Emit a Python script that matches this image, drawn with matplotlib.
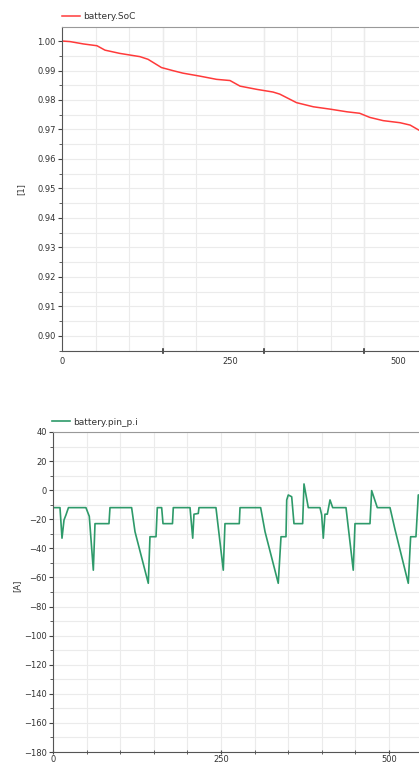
import matplotlib
matplotlib.use('Agg')
import matplotlib.pyplot as plt
from matplotlib.ticker import MultipleLocator, FixedLocator

# SoC trace
soc_t = [0, 12, 32, 52, 64, 86, 116, 128, 138, 148, 166, 180, 205, 230, 250,
         265, 290, 314, 324, 349, 374, 399, 424, 443, 458, 478, 503, 518, 531, 548]
soc_v = [1.000, 0.9998, 0.9990, 0.9984, 0.9969, 0.9958, 0.9947, 0.9938, 0.9924,
         0.9910, 0.9899, 0.9891, 0.9881, 0.9870, 0.9866, 0.9847, 0.9836, 0.9827,
         0.9820, 0.9791, 0.9777, 0.9769, 0.9760, 0.9755, 0.9741, 0.9730, 0.9723,
         0.9715, 0.9698, 0.9680]

# battery current trace
cur_t = [0, 10.4, 13.4, 16.4, 19.3, 23, 49, 54, 60, 62.5, 83.3, 84.8, 117, 122,
         141.8, 144.3, 153.3, 155.2, 161.7, 163.7, 177.8, 179, 203.9, 207.9, 209.8,
         216.2, 217.2, 242.5, 253.4, 255.9, 277.2, 278.3, 309, 315.5, 335.2, 339.3,
         346.7, 347.8, 350.1, 355.2, 358.6, 371.5, 373.5, 379.9, 397.3, 399.8, 402.2,
         404.7, 408.2, 412.2, 416.2, 436, 446.8, 449.4, 471.7, 474.2, 482.6, 501.5,
         508.9, 528.7, 532.2, 540.1, 543.6, 560]
cur_v = [-12, -12, -33, -20.5, -17, -12, -12, -18, -55, -23, -23, -12, -12, -28.5,
         -64, -32, -32, -12, -12, -23, -23, -12, -12, -33, -16.5,
         -16, -12, -12, -55, -23, -23, -12, -12, -28.5, -64, -32,
         -32, -6.7, -3.3, -4.5, -23, -23, 4.3, -12, -12, -17, -33,
         -16.5, -16.5, -6.7, -12, -12, -55, -23, -23, -0.3, -12, -12,
         -27, -64, -32, -32, -3.3, -3.3]

W, H = 419, 765
fig = plt.figure(figsize=(W / 100, H / 100), dpi=100)
fs = 6
txt = '#333333'


def style(ax):
    for s in ['left', 'bottom']:
        ax.spines[s].set_color('#555555')
    for s in ['top', 'right']:
        ax.spines[s].set_color('#999999')
    ax.tick_params(axis='both', which='both', labelsize=fs, colors='#444444',
                   labelcolor=txt)
    ax.tick_params(axis='y', which='major', direction='out', length=3, pad=1.5)
    ax.tick_params(axis='y', which='minor', direction='out', length=2)
    ax.grid(True, which='both', color='#ebebeb', lw=0.8)
    ax.set_axisbelow(True)


# top panel
right_px = 480
ax1 = fig.add_axes([62 / W, 1 - 351 / H, (right_px - 62) / W, 324 / H])
ax1.plot(soc_t, soc_v, color='#ff3a3a', lw=1.1, label='battery.SoC')
ax1.set_xlim(0, (right_px - 62) * 250 / 168)
ax1.set_ylim(0.8949, 1.00475)
ax1.yaxis.set_major_locator(MultipleLocator(0.01))
ax1.yaxis.set_minor_locator(MultipleLocator(0.005))
ax1.yaxis.set_major_formatter(matplotlib.ticker.FormatStrFormatter('%.2f'))
ax1.xaxis.set_major_locator(FixedLocator([0, 250, 500]))
ax1.xaxis.set_minor_locator(MultipleLocator(50))
style(ax1)
ax1.tick_params(axis='x', which='major', length=0, pad=4)
ax1.tick_params(axis='x', which='minor', length=0)
ax1.grid(False, axis='x', which='major')
for xv in [150, 300, 450, 600]:
    ax1.axvline(xv, color='#dcdcdc', lw=0.9, zorder=0)
    ax1.plot([xv, xv], [0.8949 - 0.0006, 0.8949 + 0.0006], color='#333333',
             lw=1.2, clip_on=False)
ax1.set_ylabel('[1]', fontsize=fs, color=txt)
ax1.yaxis.set_label_coords(-0.088, 0.5)
ax1.legend(loc='lower left', bbox_to_anchor=(-0.016, 1.0), frameon=False,
           fontsize=6.5, handlelength=2.0, handletextpad=0.4, borderaxespad=0.6,
           borderpad=0.1, labelcolor=txt)

# bottom panel
ax2 = fig.add_axes([53 / W, 1 - 752 / H, (right_px - 53) / W, 320 / H])
ax2.plot(cur_t, cur_v, color='#2e9a6a', lw=1.2, label='battery.pin_p.i')
ax2.set_xlim(0, (right_px - 53) * 250 / 168)
ax2.set_ylim(-180, 40)
ax2.yaxis.set_major_locator(MultipleLocator(20))
ax2.yaxis.set_minor_locator(MultipleLocator(10))
ax2.xaxis.set_major_locator(FixedLocator([0, 250, 500]))
ax2.xaxis.set_minor_locator(MultipleLocator(50))
style(ax2)
ax2.tick_params(axis='x', which='both', direction='inout', length=3, pad=1)
ax2.set_ylabel('[A]', fontsize=fs, color=txt)
ax2.yaxis.set_label_coords(-0.073, 0.52)
ax2.legend(loc='lower left', bbox_to_anchor=(-0.016, 1.0), frameon=False,
           fontsize=6.5, handlelength=2.0, handletextpad=0.4, borderaxespad=0.5,
           borderpad=0.1, labelcolor=txt)

fig.savefig('out.png', dpi=100)
